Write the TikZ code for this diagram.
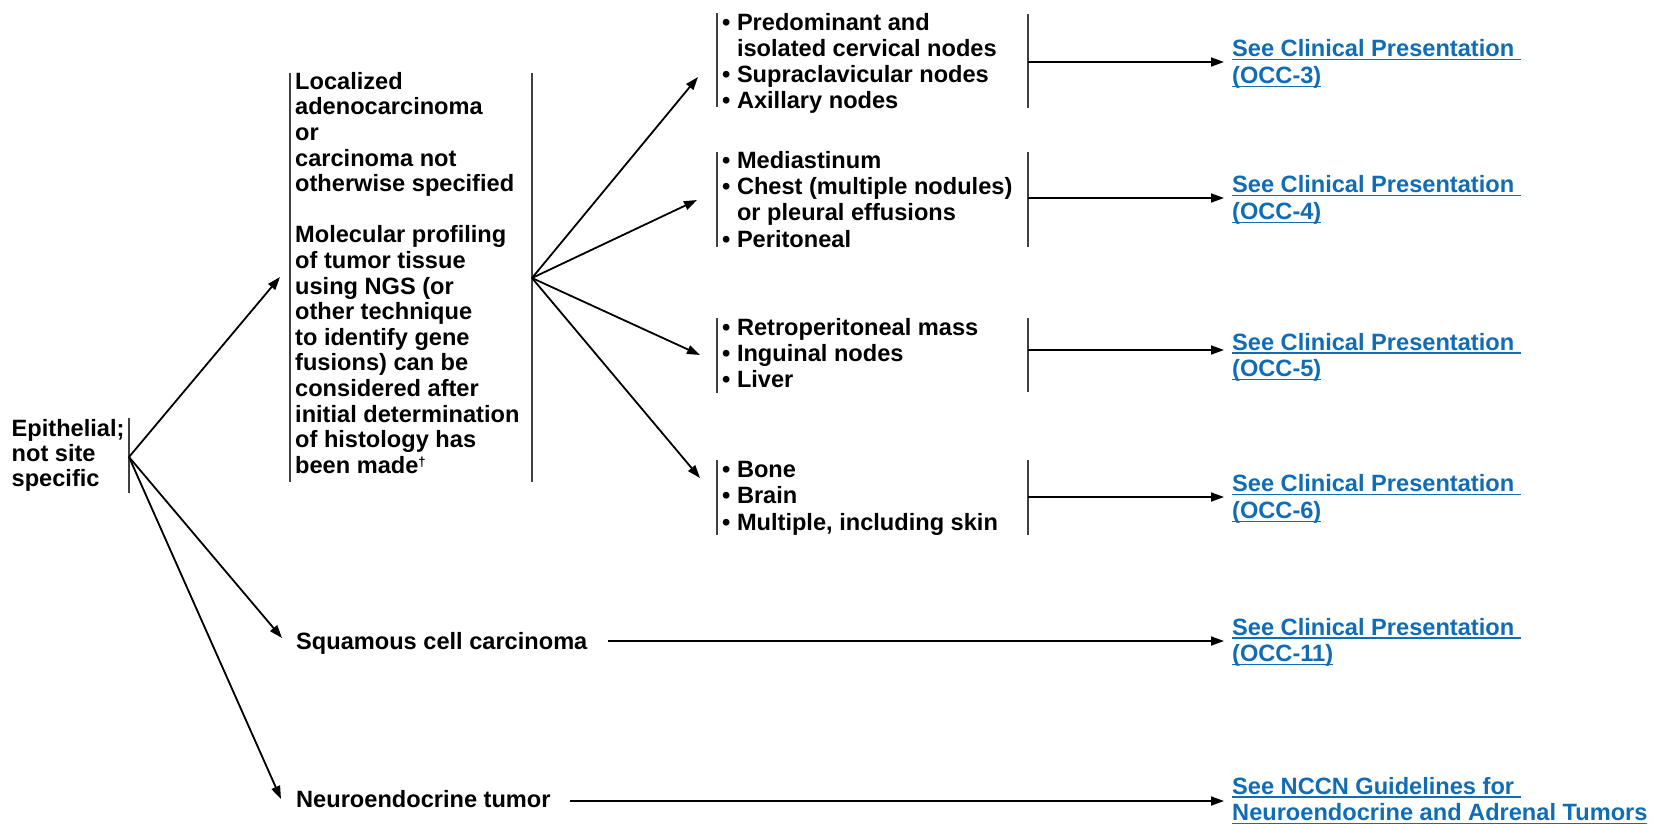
\documentclass[tikz,border=0pt]{standalone}
\usepackage{fontspec}
\setmainfont{Liberation Sans}
\usetikzlibrary{arrows.meta}
\definecolor{linkblue}{RGB}{16,108,180}
\newcommand\ulink[1]{\setbox0=\hbox{#1}\rlap{\rule[-3.5pt]{\wd0}{1.4pt}}\box0}
\newcommand\fl{\rule{0pt}{18pt}}
\newcommand\dg{\raisebox{6.5pt}{\fontsize{13}{13}\selectfont †}}
\newcommand\bl{\phantom{• }}
\begin{document}
\begin{tikzpicture}[x=1pt,y=-1pt,
  txt/.style={font=\fontsize{23.6}{25.6}\selectfont\bfseries, align=left, inner sep=0pt, anchor=north west},
  lnk/.style={txt, text=linkblue, font=\fontsize{23.6}{26.5}\selectfont\bfseries},
  bar/.style={line width=2pt, black!75},
  arr/.style={line width=1.8pt, -{Triangle[length=13pt,width=9pt]}},
  ln/.style={line width=1.8pt}]
\useasboundingbox (0,0) rectangle (1655,823);
\clip (0,0) rectangle (1655,823);

% text nodes
\node[txt, font=\fontsize{23.6}{25}\selectfont\bfseries] (epi) at (11.5,418) {\fl Epithelial;\\not site\\specific};
\node[txt] (loc) at (295,71) {\fl Localized\\adenocarcinoma\\or\\carcinoma not\\otherwise specified\\[25.6pt]Molecular profiling\\of tumor tissue\\using NGS (or\\other technique\\to identify gene\\fusions) can be\\considered after\\initial determination\\of histology has\\been made\dg};
\node[txt, font=\fontsize{23.6}{26}\selectfont\bfseries] (sa) at (722,12) {\fl • Predominant and\\\bl isolated cervical nodes\\• Supraclavicular nodes\\• Axillary nodes};
\node[txt, font=\fontsize{23.6}{26.3}\selectfont\bfseries] (sb) at (722,150) {\fl • Mediastinum\\• Chest (multiple nodules)\\\bl or pleural effusions\\• Peritoneal};
\node[txt, font=\fontsize{23.6}{26}\selectfont\bfseries] (sc) at (722,317) {\fl • Retroperitoneal mass\\• Inguinal nodes\\• Liver};
\node[txt, font=\fontsize{23.6}{26.5}\selectfont\bfseries] (sd) at (722,459) {\fl • Bone\\• Brain\\• Multiple, including skin};
\node[txt] (sq) at (296,631) {\fl Squamous cell carcinoma};
\node[txt] (ne) at (296,789) {\fl Neuroendocrine tumor};

% links
\node[lnk] (l3) at (1232,38.7) {\fl\ulink{See Clinical Presentation\ }\\\ulink{(OCC-3)}};
\node[lnk] (l4) at (1232,174.7) {\fl\ulink{See Clinical Presentation\ }\\\ulink{(OCC-4)}};
\node[lnk] (l5) at (1232,332) {\fl\ulink{See Clinical Presentation\ }\\\ulink{(OCC-5)}};
\node[lnk] (l6) at (1232,473.7) {\fl\ulink{See Clinical Presentation\ }\\\ulink{(OCC-6)}};
\node[lnk] (l11) at (1232,617) {\fl\ulink{See Clinical Presentation\ }\\\ulink{(OCC-11)}};
\node[lnk] (lN) at (1232,776) {\fl\ulink{See NCCN Guidelines for\ }\\\ulink{Neuroendocrine and Adrenal Tumors}};

% bars
\draw[bar] (129,418) -- (129,493);
\draw[bar] (290,73) -- (290,482);
\draw[bar] (532,73) -- (532,482);
\draw[bar] (717,13) -- (717,107);
\draw[bar] (1028,14) -- (1028,108);
\draw[bar] (717,152) -- (717,247);
\draw[bar] (1028,152) -- (1028,247);
\draw[bar] (717,318) -- (717,393);
\draw[bar] (1028,318) -- (1028,392);
\draw[bar] (717,460) -- (717,535);
\draw[bar] (1028,460) -- (1028,535);

% connector coordinates
\coordinate (epiR) at (129,457);
\coordinate (locIn) at (280,277);
\coordinate (sqIn) at (282,638);
\coordinate (neIn) at (281,799);
\coordinate (locR) at (532,278);
\coordinate (saIn) at (698,77);
\coordinate (sbIn) at (697,200);
\coordinate (scIn) at (700,355);
\coordinate (sdIn) at (700,478);
\coordinate (saR) at (1028,62);
\coordinate (sbR) at (1028,198);
\coordinate (scR) at (1028,350);
\coordinate (sdR) at (1028,497);
\coordinate (sqR) at (608,641);
\coordinate (neR) at (570,801);
\coordinate (l3In) at (1224,62);
\coordinate (l4In) at (1224,198);
\coordinate (l5In) at (1224,350);
\coordinate (l6In) at (1224,497);
\coordinate (l11In) at (1224,641);
\coordinate (lNIn) at (1224,801);

% connectors
\draw[arr] (epiR) -- (locIn);
\draw[arr] (epiR) -- (sqIn);
\draw[arr] (epiR) -- (neIn);
\draw[arr] (locR) -- (saIn);
\draw[arr] (locR) -- (sbIn);
\draw[arr] (locR) -- (scIn);
\draw[arr] (locR) -- (sdIn);
\draw[arr] (saR) -- (l3In);
\draw[arr] (sbR) -- (l4In);
\draw[arr] (scR) -- (l5In);
\draw[arr] (sdR) -- (l6In);
\draw[arr] (sqR) -- (l11In);
\draw[arr] (neR) -- (lNIn);
\end{tikzpicture}
\end{document}
